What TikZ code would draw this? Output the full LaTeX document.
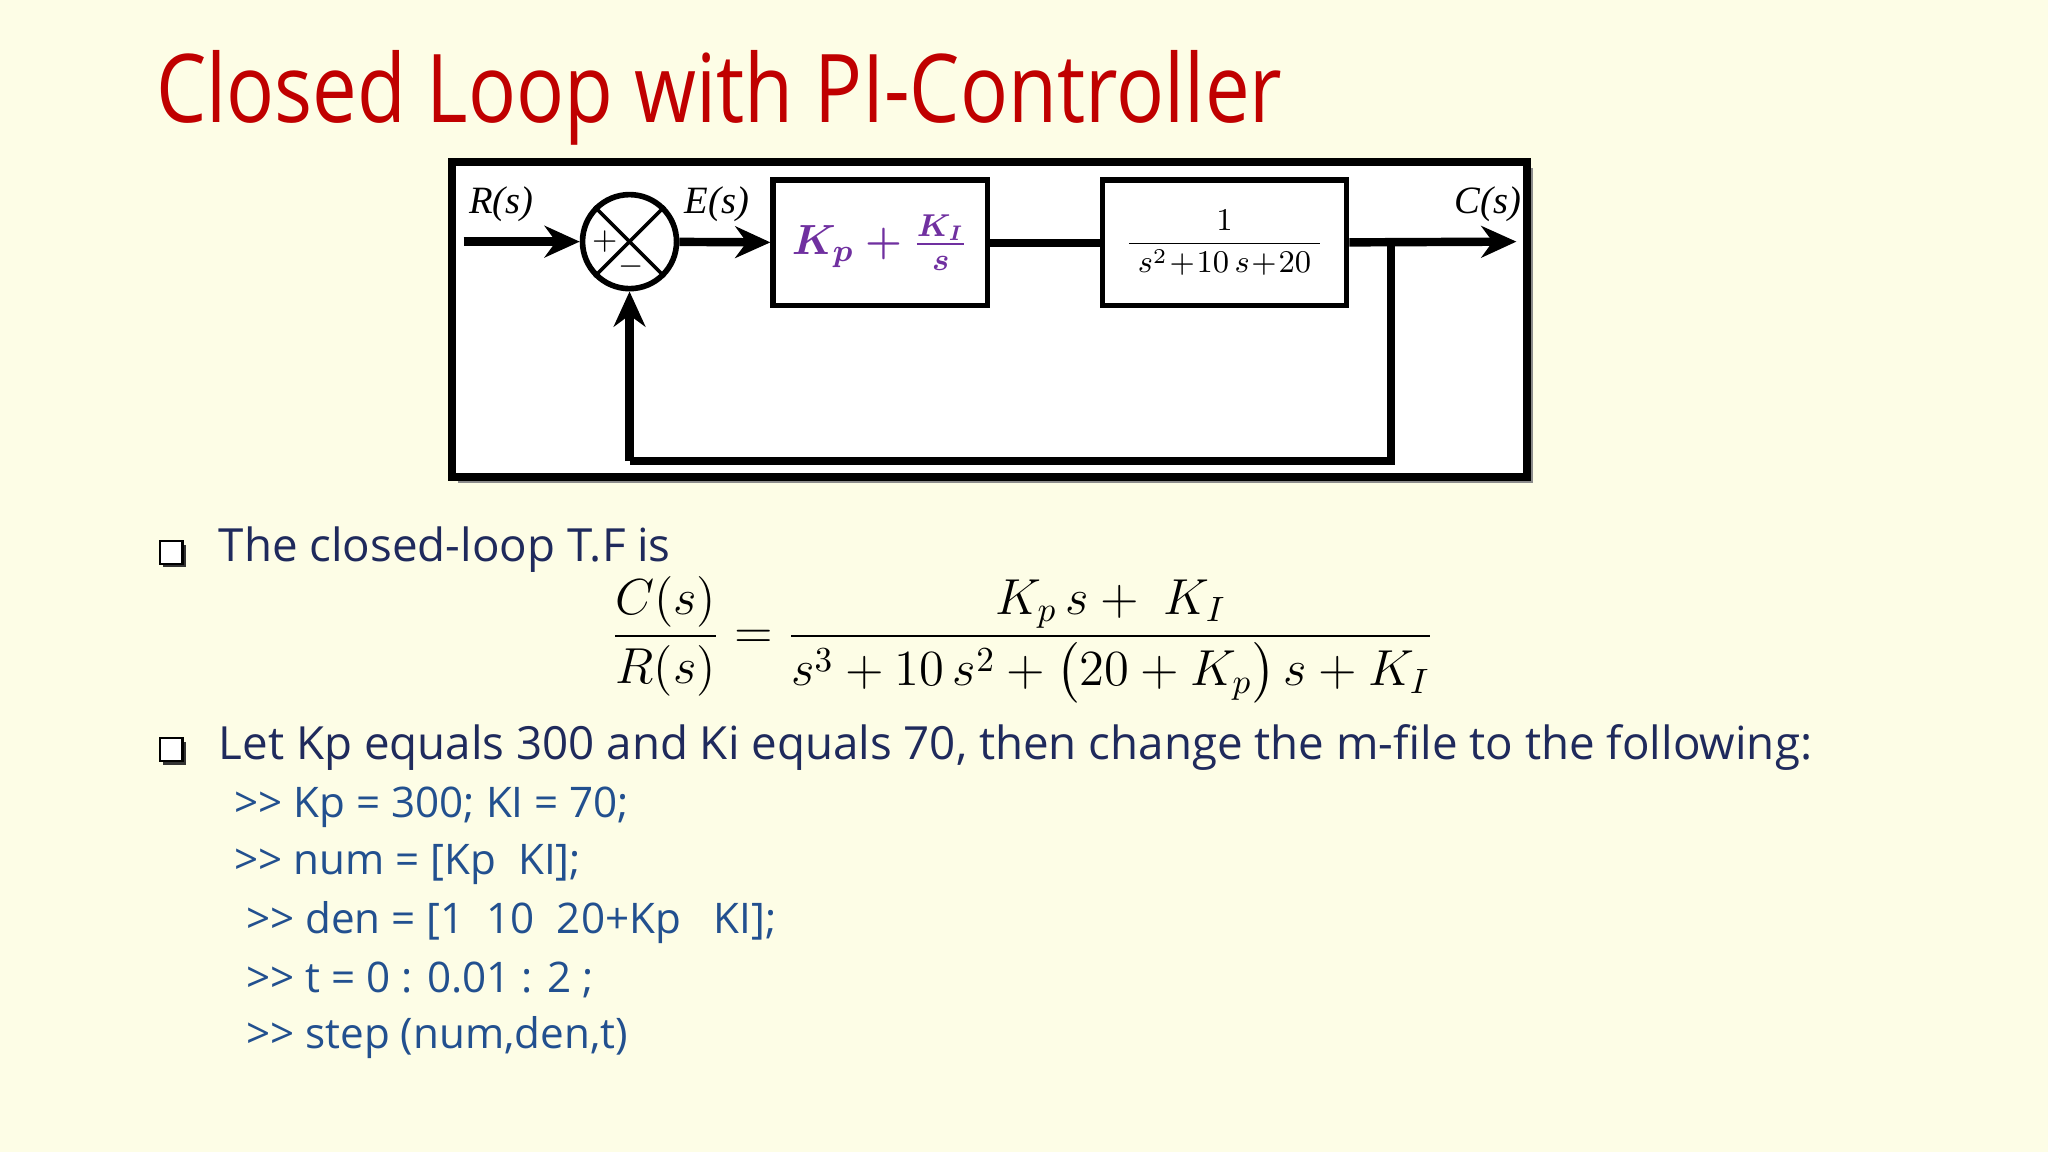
\documentclass[tikz,border=0pt]{standalone}
\usepackage{amsmath}
\usepackage{fontspec}
\setmainfont{Open Sans}
\newfontfamily\serifl{Liberation Serif}
\usetikzlibrary{arrows.meta,shadows}
\definecolor{bg}{HTML}{FDFDE6}
\definecolor{ttl}{HTML}{C00000}
\definecolor{txt}{HTML}{1F2A5C}
\definecolor{code}{HTML}{22508F}
\definecolor{pur}{HTML}{7030A0}
\tikzset{
  blk/.style={draw,line width=1.6pt,minimum width=164*0.13061mm,minimum height=96*0.13061mm,inner sep=0},
  wire/.style={line width=2.4pt},
  arr/.style={wire,-{Stealth[length=10pt,width=9pt]}},
  lbl/.style={font=\serifl\itshape\fontsize{11}{12}\selectfont},
  body/.style={anchor=west,text=txt,font=\fontsize{13}{15}\selectfont,inner sep=0},
  codel/.style={anchor=west,text=code,font=\fontsize{12}{14}\selectfont,inner sep=0},
  bul/.style={draw=black,fill=white,line width=0.6pt,minimum size=6.5pt,inner sep=0,drop shadow={shadow xshift=1pt,shadow yshift=-1pt,fill=black!80,opacity=1}}
}
\newcommand{\pgt}{{>}{>}}
\begin{document}
\begin{tikzpicture}[x=0.13061mm,y=-0.13061mm]
\fill[bg] (0,0) rectangle (1568,882);
\useasboundingbox (0,0) rectangle (1568,882);
\node[anchor=west,text=ttl,font=\fontsize{27}{30}\selectfont,inner sep=0,xscale=0.84] (title) at (119,75) {Closed Loop with PI-Controller};
% diagram frame
\fill[black!45] (351,129) rectangle (1174,370);
\draw[line width=2.4pt,fill=white] (346,124) rectangle (1169,365);
\node[circle,draw,line width=1.6pt,minimum size=72*0.13061mm,inner sep=0] (sum) at (482,185) {};
\draw[line width=1pt] (sum.north west) -- (sum.south east) (sum.north east) -- (sum.south west);
\node[font=\fontsize{9}{10}\selectfont] (plus) at (463,185) {$+$};
\node[font=\fontsize{9}{10}\selectfont] (minus) at (483,204) {$-$};
\node[blk] (pi) at (674,186) {\textcolor{pur}{\fontsize{13}{15}\selectfont$\boldsymbol{K_p+\frac{K_I}{s}}$}};
\node[blk,minimum width=187*0.13061mm] (plant) at (937.5,186) {\fontsize{9}{10}\selectfont$\dfrac{1}{\;s^2\!+\!10\,s\!+\!20\;}$};
\coordinate (rin) at (355,185);
\coordinate (cout) at (1161,185);
\coordinate (br) at (1065,185);
\coordinate (bd) at (1065,353);
\coordinate (bl) at (482,353);
\draw[arr] (rin) -- (sum);
\draw[arr] (sum) -- (pi);
\draw[wire] (pi) -- (plant);
\draw[arr] (plant) -- (cout);
\draw[wire] (br) -- (bd) -- (bl);
\draw[arr] (bl) -- (sum.south);
\node[lbl] (rl) at (384,156) {R(s)};
\node[lbl] (el) at (549,156) {E(s)};
\node[lbl] (cl) at (1139,156) {C(s)};
% bullets
\node[bul] (b1) at (131,423) {};
\node[body] (t1) at (167,421) {The closed-loop T.F is};
\node[text=black,font=\fontsize{14.5}{17}\selectfont] (eq) at (783,490) {$\dfrac{C(s)}{R(s)}=\dfrac{K_p\,s+\;K_I}{s^3+10\,s^2+\bigl(20+K_p\bigr)\,s+K_I}$};
\node[bul] (b2) at (131,574) {};
\node[body] (t2) at (167,572) {Let Kp equals 300 and Ki equals 70, then change the m-file to the following:};
\node[codel] (c1) at (179,618) {\pgt{} Kp = 300; KI = 70;};
\node[codel] (c2) at (179,662) {\pgt{} num = [Kp\ \ KI];};
\node[codel] (c3) at (188,706) {\pgt{} den = [1\ \ 10\ \ 20+Kp\ \ \ KI];};
\node[codel] (c4) at (188,750) {\pgt{} t = 0 : 0.01 : 2 ;};
\node[codel] (c5) at (188,794) {\pgt{} step (num,den,t)};
\end{tikzpicture}
\end{document}
